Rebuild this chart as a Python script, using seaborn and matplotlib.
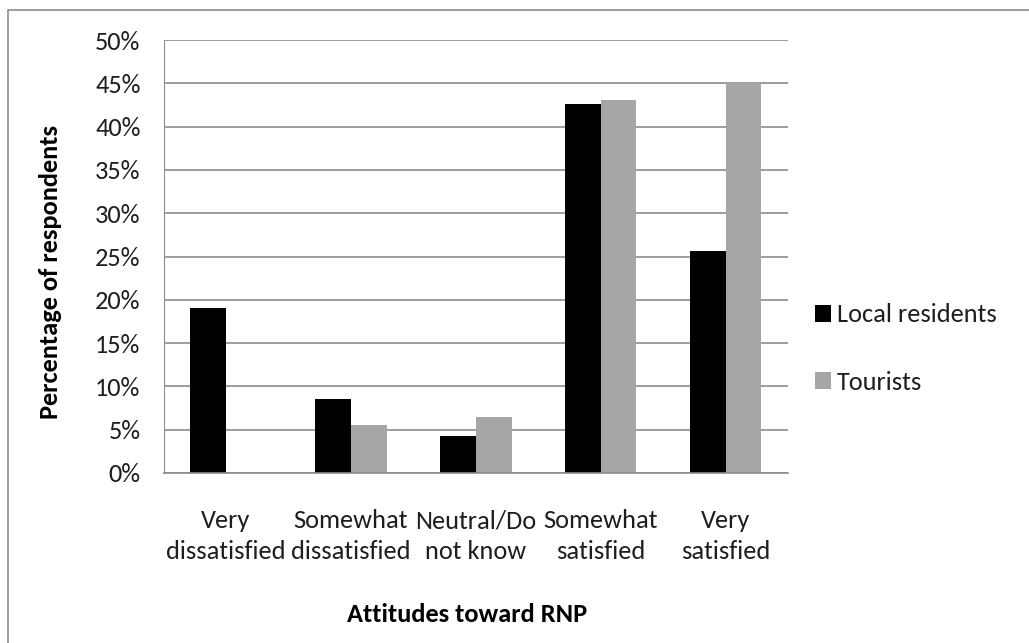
import matplotlib
matplotlib.use("Agg")
import matplotlib.pyplot as plt
import seaborn as sns
import pandas as pd
from matplotlib.patches import Patch, Rectangle
from matplotlib import font_manager as fm

categories = ["Very\ndissatisfied", "Somewhat\ndissatisfied", "Neutral/Do\nnot know",
              "Somewhat\nsatisfied", "Very\nsatisfied"]
local_residents = [19.1, 8.6, 4.3, 42.6, 25.6]
tourists = [0.0, 5.6, 6.5, 43.1, 45.0]
series_names = ["Local residents", "Tourists"]
y_ticks = [0, 5, 10, 15, 20, 25, 30, 35, 40, 45, 50]

df = pd.DataFrame({
    "Category": categories * 2,
    "Value": local_residents + tourists,
    "Group": [series_names[0]] * 5 + [series_names[1]] * 5,
})

installed = set(f.name for f in fm.fontManager.ttflist)
font_choice = "Lato"
for cand in ["Carlito", "Calibri", "Liberation Sans Narrow", "Archivo Narrow"]:
    if cand in installed:
        font_choice = cand
        break

sns.set_style("white")
plt.rcParams["font.family"] = [font_choice, "DejaVu Sans"]

FS = 19 if font_choice in ("Carlito", "Calibri") else 16.5
TXT = "#1e1e1e"

W, H = 1029, 643
AX_L, AX_R, AX_B, AX_T = 163.5, 788, 473, 40   # pixel frame of the plot area

fig = plt.figure(figsize=(W / 100, H / 100), dpi=100)
ax = fig.add_axes([AX_L / W, 1 - AX_B / H, (AX_R - AX_L) / W, (AX_B - AX_T) / H])

palette = {"Local residents": "#000000", "Tourists": "#a6a6a6"}
sns.barplot(data=df, x="Category", y="Value", hue="Group", palette=palette,
            width=0.573, ax=ax, legend=False, saturation=1, edgecolor="none")

ax.set_ylim(0, 50)
ax.set_xlim(-0.5, 4.5)
ax.set_yticks(y_ticks)
ax.set_yticklabels([f"{t}%" for t in y_ticks], fontsize=FS, color=TXT)
for lbl in ax.get_xticklabels():
    lbl.set_linespacing(1.4)
    lbl.set_fontsize(FS)
    lbl.set_color(TXT)
ax.tick_params(axis="x", length=0, pad=26)
ax.tick_params(axis="y", length=6, width=1, color="#888888", direction="out", pad=10.5)
ax.yaxis.grid(True, color="#8c8c8c", linewidth=1.2)
ax.set_axisbelow(True)
for s in ["top", "right"]:
    ax.spines[s].set_visible(False)
ax.spines["left"].set_color("#8c8c8c")
ax.spines["bottom"].set_color("#8c8c8c")
ax.spines["bottom"].set_linewidth(1.2)

ax.set_xlabel("")
ax.set_ylabel("Percentage of respondents", fontsize=FS, fontweight="bold", color="#000000")
ax.yaxis.set_label_coords((62 - AX_L) / (AX_R - AX_L), (AX_B - 272) / (AX_B - AX_T))
fig.text(467 / W, 1 - 615 / H, "Attitudes toward RNP", fontsize=FS, fontweight="bold",
         ha="center", va="center", color="#000000")

handles = [Patch(facecolor=palette[n], edgecolor="none") for n in series_names]
leg = fig.legend(handles, series_names, loc="center left", bbox_to_anchor=(0.769, 0.458),
                 frameon=False, fontsize=FS, handlelength=0.61, handleheight=0.61,
                 labelspacing=1.68, handletextpad=0.23)
for t in leg.get_texts():
    t.set_color(TXT)

fig.patches.append(Rectangle((0.008, -0.01), 1.2, 0.995, transform=fig.transFigure,
                             fill=False, edgecolor="#8c8c8c", linewidth=1.2))

fig.savefig("out.png", dpi=100)
